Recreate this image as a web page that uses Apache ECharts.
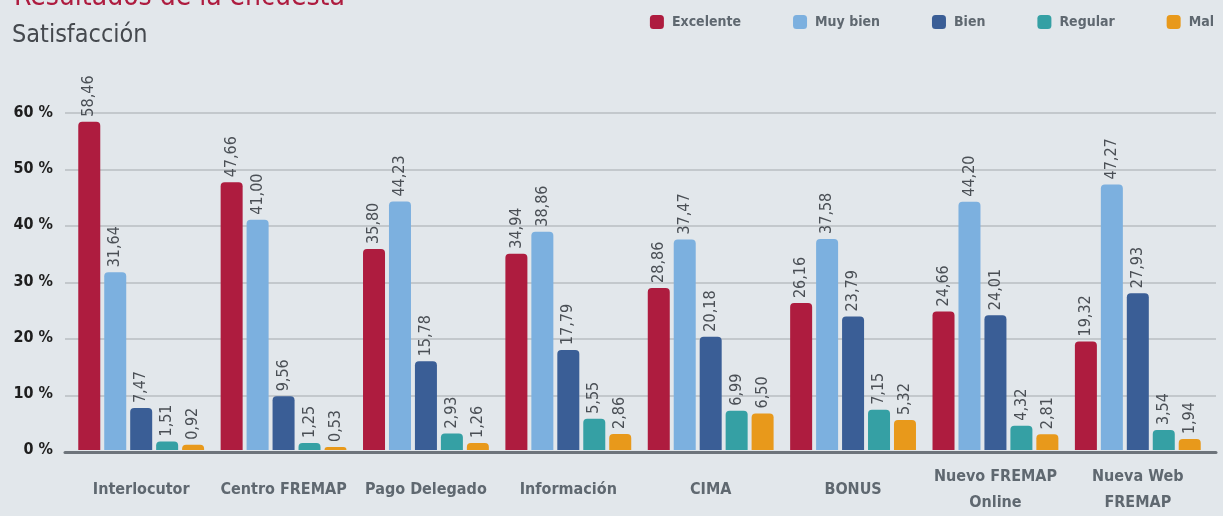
<!DOCTYPE html>
<html>
<head>
<meta charset="utf-8">
<script src="https://cdn.jsdelivr.net/npm/echarts@6/dist/echarts.min.js"></script>
<style>
html,body{margin:0;padding:0;background:#e2e7eb;}
#c{width:1223px;height:516px;}
</style>
</head>
<body>
<div id="c"></div>
<script>
const categories = ['Interlocutor','Centro FREMAP','Pago Delegado','Información','CIMA','BONUS','Nuevo FREMAP\nOnline','Nueva Web\nFREMAP'];
const seriesNames = ['Excelente','Muy bien','Bien','Regular','Mal'];
const excelente = [58.46,47.66,35.80,34.94,28.86,26.16,24.66,19.32];
const muyBien   = [31.64,41.00,44.23,38.86,37.47,37.58,44.20,47.27];
const bien      = [7.47,9.56,15.78,17.79,20.18,23.79,24.01,27.93];
const regular   = [1.51,1.25,2.93,5.55,6.99,7.15,4.32,3.54];
const mal       = [0.92,0.53,1.26,2.86,6.50,5.32,2.81,1.94];
const yTicks = [0,10,20,30,40,50,60];
const colors = ['#ae1c3f','#7cb0df','#3a5e96','#35a0a4','#e8991b'];

const FONT = '"DejaVu Sans Condensed","Liberation Sans Narrow","Noto Sans",sans-serif';
const allData = [excelente, muyBien, bien, regular, mal];

const chart = echarts.init(document.getElementById('c'));
chart.setOption({
  backgroundColor: '#e2e7eb',
  animation: false,
  title: [
    {text: 'Resultados de la encuesta', left: 9, top: -21,
     textStyle: {fontFamily: FONT, fontSize: 28, fontWeight: 'normal', color: '#ae1c3f'}},
    {text: 'Satisfacción', left: 7, top: 18,
     textStyle: {fontFamily: FONT, fontSize: 25, fontWeight: 'normal', color: '#45494e'}}
  ],
  legend: {
    right: 9, top: 15, padding: 0,
    icon: 'roundRect', itemWidth: 14, itemHeight: 14, itemGap: 52,
    data: seriesNames,
    textStyle: {fontFamily: FONT, fontSize: 14, fontWeight: 'bold', color: '#5f6870', padding: [0,0,0,3]}
  },
  grid: [
    {left: 70, right: 14, top: 113, bottom: 64},
    {left: 65, right: 7, top: 113, bottom: 64}
  ],
  xAxis: [{
    type: 'category', data: categories, gridIndex: 0,
    axisLine: {show: false},
    axisTick: {show: false},
    axisLabel: {fontFamily: FONT, fontSize: 16, fontWeight: 'bold', color: '#5f6870',
                margin: 40, verticalAlign: 'middle', lineHeight: 26, interval: 0}
  }, {
    type: 'category', data: categories, gridIndex: 1, z: 3,
    axisLine: {lineStyle: {color: '#6d747b', width: 3}},
    axisTick: {show: false}, axisLabel: {show: false}
  }],
  yAxis: [{
    type: 'value', min: 0, max: 60, interval: 10, gridIndex: 0,
    axisLine: {show: false}, axisTick: {show: false},
    splitLine: {show: false},
    axisLabel: {fontFamily: FONT, fontSize: 16, fontWeight: 'bold', color: '#1e1e1e', margin: 17,
                formatter: v => yTicks.includes(v) ? v + ' %' : ''}
  }, {
    type: 'value', min: 0, max: 60, interval: 10, gridIndex: 1,
    axisLine: {show: false}, axisTick: {show: false}, axisLabel: {show: false},
    splitLine: {lineStyle: {color: '#c3c8cc', width: 2}}
  }],
  series: seriesNames.map((n, i) => ({
    name: n, type: 'bar', data: allData[i], xAxisIndex: 0, yAxisIndex: 0,
    barWidth: 22, barGap: '18%',
    itemStyle: {color: colors[i], borderRadius: [4,4,0,0]},
    label: {show: true, position: 'top', rotate: 90, align: 'left', verticalAlign: 'middle',
            distance: 5, fontFamily: FONT, fontSize: 16, color: '#4a4f55',
            formatter: p => p.value.toFixed(2).replace('.', ',')}
  }))
});
</script>
</body>
</html>
